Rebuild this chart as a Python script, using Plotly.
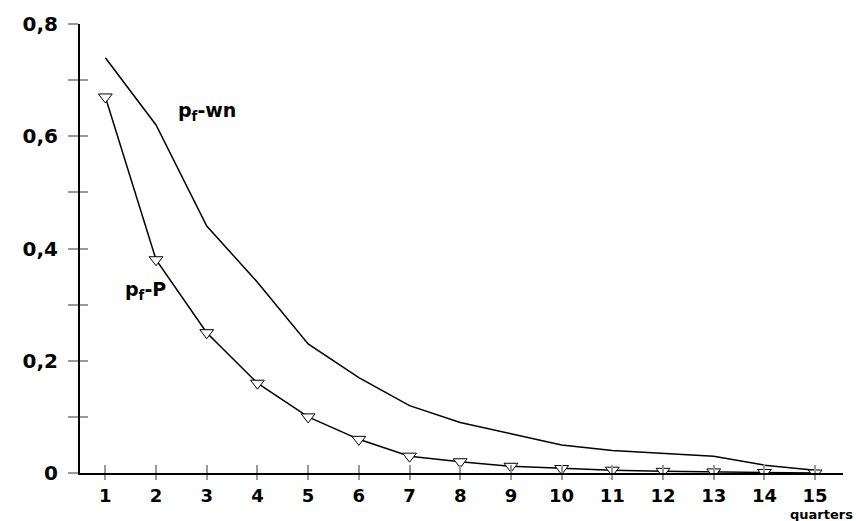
import plotly.graph_objects as go

quarters = list(range(1, 16))
p_wn = [0.74, 0.62, 0.44, 0.34, 0.23, 0.17, 0.12, 0.09, 0.07, 0.05, 0.04, 0.035, 0.03, 0.014, 0.005]
p_P = [0.67, 0.38, 0.25, 0.16, 0.10, 0.06, 0.03, 0.02, 0.012, 0.008, 0.005, 0.003, 0.002, 0.001, 0.0]

y_tickvals = [0, 0.1, 0.2, 0.3, 0.4, 0.5, 0.6, 0.7, 0.8]
y_ticktext = ["0", "", "0,2", "", "0,4", "", "0,6", "", "0,8"]
x_tickvals = quarters
x_ticktext = [str(q) for q in quarters]

FONT = "DejaVu Sans"

fig = go.Figure()
fig.add_trace(go.Scatter(x=quarters, y=p_wn, mode="lines",
                         line=dict(color="black", width=1.5), showlegend=False))
fig.add_trace(go.Scatter(x=quarters, y=p_P, mode="lines+markers",
                         line=dict(color="black", width=1.5),
                         marker=dict(symbol="triangle-down", size=12, color="white",
                                     line=dict(color="black", width=1)),
                         showlegend=False))

xr = [0.5, 15.55]
yr = [0, 0.8]

fig.update_layout(
    width=856, height=521,
    margin=dict(l=80, r=13, t=22, b=48),
    plot_bgcolor="white", paper_bgcolor="white",
    font=dict(family=FONT, color="black"),
    xaxis=dict(range=xr, showgrid=False, zeroline=False, showline=True,
               linecolor="black", linewidth=2,
               tickmode="array", tickvals=x_tickvals, ticktext=x_ticktext,
               ticks="outside", ticklen=5, tickcolor="#999", tickwidth=2,
               tickfont=dict(family=FONT, size=18, color="black", weight="bold")),
    xaxis2=dict(range=xr, overlaying="x", showgrid=False, zeroline=False,
                showline=False, tickmode="array", tickvals=x_tickvals,
                ticktext=["" for _ in x_tickvals], side="bottom",
                ticks="inside", ticklen=8, tickcolor="#999", tickwidth=2, anchor="y"),
    yaxis=dict(range=yr, showgrid=False, zeroline=False, showline=True,
               linecolor="black", linewidth=2,
               tickmode="array", tickvals=y_tickvals, ticktext=y_ticktext,
               ticks="outside", ticklen=10, tickcolor="#999", tickwidth=2,
               ticklabelstandoff=6,
               tickfont=dict(family=FONT, size=20, color="black", weight="bold")),
    yaxis2=dict(range=yr, overlaying="y", showgrid=False, zeroline=False,
                showline=False, tickmode="array", tickvals=y_tickvals,
                ticktext=["" for _ in y_tickvals], side="left",
                ticks="inside", ticklen=8, tickcolor="#999", tickwidth=2, anchor="x"),
)

# dummy traces to activate overlay axes
fig.add_trace(go.Scatter(x=[None], y=[None], xaxis="x2", yaxis="y", showlegend=False, hoverinfo="skip"))
fig.add_trace(go.Scatter(x=[None], y=[None], xaxis="x", yaxis="y2", showlegend=False, hoverinfo="skip"))

fig.add_annotation(x=3.0, y=0.644, xref="x", yref="y", showarrow=False,
                   text="p<sub>f</sub>-wn",
                   font=dict(family=FONT, size=19, color="black", weight="bold"))
fig.add_annotation(x=1.8, y=0.325, xref="x", yref="y", showarrow=False,
                   text="p<sub>f</sub>-P",
                   font=dict(family=FONT, size=19, color="black", weight="bold"))
fig.add_annotation(x=1.0, y=0, xref="paper", yref="paper", xanchor="right", yanchor="middle",
                   yshift=-41, xshift=12, showarrow=False, text="quarters",
                   font=dict(family=FONT, size=13, color="black", weight="bold"))

fig.write_html("out.html")
